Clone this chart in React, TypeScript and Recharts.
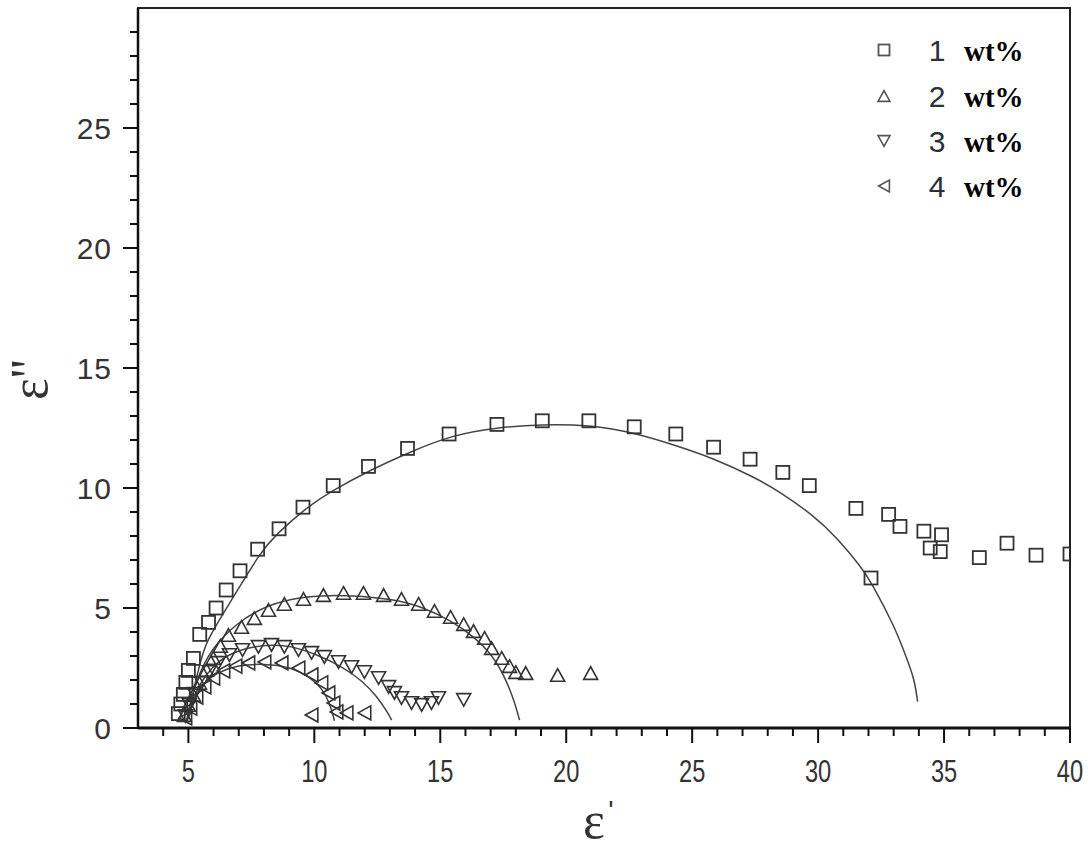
import React from "react";
import { ComposedChart, Scatter, Line, XAxis, YAxis, ReferenceArea } from "recharts";

// measured points, [eps', eps'']
const wt1Points = [
  [4.6, 0.6], [4.7, 1.0], [4.8, 1.4], [4.9, 1.9], [5.0, 2.4], [5.2, 2.9], [5.45, 3.9], [5.8, 4.4],
  [6.1, 5.0], [6.5, 5.75], [7.05, 6.55], [7.75, 7.45], [8.6, 8.3], [9.55, 9.2], [10.75, 10.1],
  [12.15, 10.9], [13.7, 11.65], [15.35, 12.25], [17.25, 12.65], [19.05, 12.8], [20.9, 12.8],
  [22.7, 12.55], [24.35, 12.25], [25.85, 11.7], [27.3, 11.2], [28.6, 10.65], [29.65, 10.1],
  [31.5, 9.15], [32.1, 6.25], [32.8, 8.9], [33.25, 8.4], [34.2, 8.2], [34.45, 7.5], [34.85, 7.35],
  [34.9, 8.05], [36.4, 7.1], [37.5, 7.7], [38.65, 7.2], [40.0, 7.25],
];
const wt2Points = [
  [4.84, 0.54], [5.0, 0.96], [5.2, 1.38], [5.44, 1.88], [5.72, 2.42], [5.99, 2.92], [6.27, 3.42],
  [6.59, 3.88], [7.11, 4.21], [7.62, 4.58], [8.18, 4.92], [8.81, 5.17], [9.57, 5.38], [10.36, 5.54],
  [11.16, 5.63], [11.95, 5.63], [12.75, 5.54], [13.46, 5.38], [14.14, 5.17], [14.77, 4.88],
  [15.41, 4.63], [15.93, 4.33], [16.32, 4.04], [16.76, 3.75], [17.04, 3.33], [17.44, 2.92],
  [17.75, 2.58], [18.0, 2.33], [18.39, 2.29], [19.66, 2.21], [20.97, 2.29],
];
const wt3Points = [
  [4.88, 0.5], [5.04, 0.96], [5.24, 1.42], [5.52, 1.88], [5.83, 2.33], [6.19, 2.71], [6.63, 3.04],
  [7.15, 3.25], [7.78, 3.38], [8.3, 3.46], [8.81, 3.38], [9.37, 3.25], [9.89, 3.13], [10.4, 2.96],
  [10.96, 2.75], [11.48, 2.54], [11.99, 2.33], [12.55, 2.08], [12.95, 1.71], [13.18, 1.46],
  [13.46, 1.25], [13.86, 1.04], [14.26, 0.96], [14.65, 1.04], [14.93, 1.25], [15.93, 1.17],
];
const wt4Points = [
  [4.88, 0.42], [5.08, 0.83], [5.32, 1.29], [5.64, 1.71], [5.99, 2.08], [6.39, 2.38], [6.87, 2.58],
  [7.38, 2.71], [8.02, 2.75], [8.7, 2.71], [9.37, 2.5], [9.89, 2.21], [10.28, 1.88], [10.56, 1.46],
  [10.76, 1.04], [10.88, 0.67], [9.89, 0.54], [11.28, 0.63], [11.99, 0.63],
];

// fitted arcs
const wt1Fit = [
  [4.92, 0.25], [5.12, 1.17], [5.4, 2.42], [5.79, 3.67], [6.71, 5.33], [7.78, 7.13], [8.58, 8.13],
  [9.61, 9.08], [10.8, 9.92], [12.27, 10.75], [13.74, 11.46], [15.45, 12.13], [17.32, 12.5],
  [19.06, 12.63], [20.89, 12.58], [22.76, 12.25], [24.39, 11.75], [25.86, 11.2], [27.33, 10.5],
  [28.52, 9.79], [29.71, 8.9], [30.74, 7.9], [31.62, 6.8], [32.21, 5.85], [32.97, 4.3],
  [33.5, 2.95], [33.8, 2.0], [33.95, 1.1],
];
const wt2Fit = [
  [4.95, 0.3], [5.12, 1.17], [5.52, 2.42], [6.11, 3.46], [6.91, 4.29], [7.9, 4.95], [9.09, 5.35],
  [10.28, 5.5], [11.5, 5.5], [13.0, 5.35], [14.3, 5.0], [15.4, 4.45], [16.3, 3.8], [17.04, 3.0],
  [17.55, 2.1], [17.9, 1.2], [18.15, 0.33],
];
const wt3Fit = [
  [4.95, 0.3], [5.1, 0.96], [5.45, 1.79], [5.95, 2.5], [6.63, 3.04], [7.5, 3.35], [8.3, 3.45],
  [9.09, 3.38], [10.09, 3.04], [11.08, 2.54], [11.88, 1.95], [12.47, 1.3], [12.87, 0.7], [13.07, 0.33],
];
const wt4Fit = [
  [4.95, 0.3], [5.1, 0.9], [5.55, 1.75], [6.2, 2.3], [7.0, 2.58], [8.0, 2.65], [9.0, 2.5], [9.8, 2.1],
  [10.3, 1.6], [10.6, 1.0], [10.8, 0.3],
];

const legendLabels = ["1", "2", "3", "4"];
const xTicks = Array.from({ length: 37 }, (_, i) => i + 4);
const yTicks = Array.from({ length: 30 }, (_, i) => i);

const toXY = (pts: number[][]) => pts.map(([x, y]) => ({ x, y }));

const INK = "#333";
const SERIF = "'Liberation Serif', 'Times New Roman', serif";
const SANS = "'Liberation Sans', Arial, sans-serif";

const markSquare = (cx: number, cy: number, s = 13, color = INK) => (
  <rect x={cx - s / 2} y={cy - s / 2} width={s} height={s} fill="none" stroke={color} strokeWidth={1.8} />
);
const markTri = (cx: number, cy: number, dir: "up" | "down" | "left", s = 14, color = INK) => {
  const h = s * 0.9;
  let d = "";
  if (dir === "up") d = `M${cx},${cy - h / 2} L${cx + s / 2},${cy + h / 2} L${cx - s / 2},${cy + h / 2} Z`;
  if (dir === "down") d = `M${cx},${cy + h / 2} L${cx + s / 2},${cy - h / 2} L${cx - s / 2},${cy - h / 2} Z`;
  if (dir === "left") d = `M${cx - h / 2},${cy} L${cx + h / 2},${cy - s / 2} L${cx + h / 2},${cy + s / 2} Z`;
  return <path d={d} fill="none" stroke={color} strokeWidth={1.6} />;
};

const XTick = (props: any) => {
  const { x, y, payload } = props;
  const major = payload.value % 5 === 0;
  return (
    <g>
      <line x1={x} x2={x} y1={y} y2={y + (major ? 15 : 8)} stroke="#111" strokeWidth={2} />
      {major && (
        <g transform={`translate(${x} ${y + 43}) scale(0.74 1)`}>
          <text x={0} y={0} textAnchor="middle" dominantBaseline="central" fontSize={32}
            fontFamily={SANS} fill={INK}>
            {payload.value}
          </text>
        </g>
      )}
    </g>
  );
};

const YTick = (props: any) => {
  const { x, y, payload } = props;
  const major = payload.value % 5 === 0;
  return (
    <g>
      <line x1={x} x2={x - (major ? 15 : 8)} y1={y} y2={y} stroke="#111" strokeWidth={2} />
      {major && (
        <text x={x - 26} y={y} textAnchor="end" dominantBaseline="central" fontSize={30}
          letterSpacing={1} fontFamily={SANS} fill={INK}>
          {payload.value}
        </text>
      )}
    </g>
  );
};

const fitStyle = { stroke: "#444", strokeWidth: 1.5 };

export default function App() {
  return (
    <div style={{ position: "absolute", left: 0, top: 0, width: 1088, height: 848, background: "#fff" }}>
      <ComposedChart width={1088} height={848} margin={{ top: 8, right: 18, left: 0, bottom: 0 }}>
        <XAxis type="number" dataKey="x" domain={[3, 40]} ticks={xTicks} allowDataOverflow
          tick={<XTick />} tickLine={false} tickSize={0} tickMargin={0} height={120}
          axisLine={{ stroke: "#111", strokeWidth: 3 }} interval={0} />
        <YAxis type="number" dataKey="y" domain={[0, 30]} ticks={yTicks} allowDataOverflow
          tick={<YTick />} tickLine={false} tickSize={0} tickMargin={0} width={138}
          axisLine={{ stroke: "#111", strokeWidth: 2.5 }} interval={0} />
        <ReferenceArea x1={3} x2={40} y1={0} y2={30} fill="none" stroke="#222" strokeWidth={2} />

        <Line data={toXY(wt1Fit)} dataKey="y" type="natural" dot={false} {...fitStyle} isAnimationActive={false} />
        <Line data={toXY(wt2Fit)} dataKey="y" type="natural" dot={false} {...fitStyle} isAnimationActive={false} />
        <Line data={toXY(wt3Fit)} dataKey="y" type="natural" dot={false} {...fitStyle} isAnimationActive={false} />
        <Line data={toXY(wt4Fit)} dataKey="y" type="natural" dot={false} {...fitStyle} isAnimationActive={false} />

        <Scatter data={toXY(wt1Points)} isAnimationActive={false}
          shape={(p: any) => markSquare(p.cx, p.cy)} />
        <Scatter data={toXY(wt2Points)} isAnimationActive={false}
          shape={(p: any) => markTri(p.cx, p.cy, "up")} />
        <Scatter data={toXY(wt3Points)} isAnimationActive={false}
          shape={(p: any) => markTri(p.cx, p.cy, "down")} />
        <Scatter data={toXY(wt4Points)} isAnimationActive={false}
          shape={(p: any) => markTri(p.cx, p.cy, "left")} />

        {/* legend */}
        {legendLabels.map((lab, i) => {
          const cy = [50, 96, 141, 186][i];
          const mk = i === 0 ? markSquare(884, cy, 11, "#555")
            : markTri(884, cy, i === 1 ? "up" : i === 2 ? "down" : "left", 12, "#555");
          return (
            <g key={lab}>
              {mk}
              <text x={937} y={cy} textAnchor="middle" dominantBaseline="central" fontSize={30}
                fontFamily={SANS} fill="#2a2f3a">{lab}</text>
              <text x={964} y={cy + 1} dominantBaseline="central" fontSize={29} fontWeight="bold"
                fontFamily={SERIF} fill="#000">wt%</text>
            </g>
          );
        })}
      </ComposedChart>

      {/* axis titles */}
      <svg width={1088} height={848} style={{ position: "absolute", left: 0, top: 0, pointerEvents: "none" }}>
        <text x={594} y={838} textAnchor="middle" fontSize={52} fontFamily={SERIF} fill={INK}>ε</text>
        <text x={611} y={820} textAnchor="middle" fontSize={28} fontFamily={SANS} fill={INK}>'</text>
        <text x={0} y={0} transform="translate(47 400) rotate(-90)" fontSize={52}
          fontFamily={SERIF} fill={INK}>ε''</text>
      </svg>
    </div>
  );
}
